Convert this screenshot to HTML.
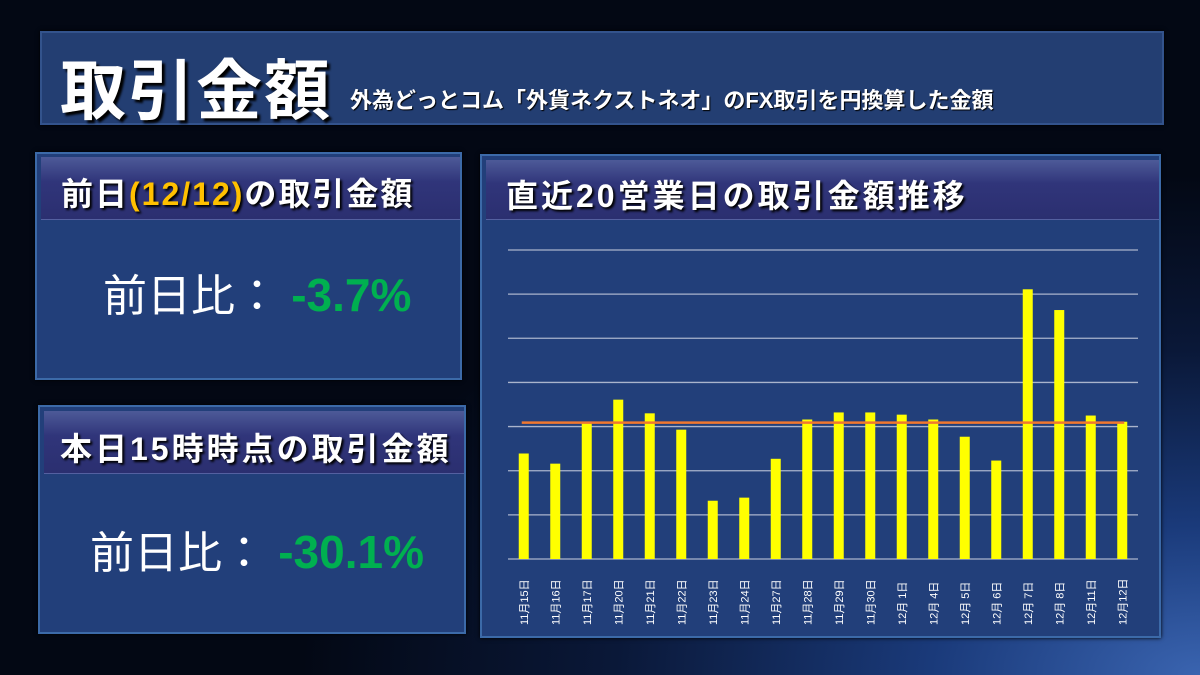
<!DOCTYPE html>
<html><head><meta charset="utf-8"><style>
*{margin:0;padding:0;box-sizing:border-box}
body{width:1200px;height:675px;overflow:hidden;font-family:"Liberation Sans","Noto Sans CJK JP",sans-serif;
background:radial-gradient(ellipse 900px 500px at 1200px 675px,#3a64b0 0%,#1a3a7a 30%,#0a1838 65%,#030814 100%);position:relative}
.panel{position:absolute;background:#223f7a;border:2px solid #3c6aa8;box-shadow:0 0 4px #000}
.hdr{position:absolute;left:4px;right:0;top:5px;height:62px;background:linear-gradient(#4d5a98,#30357a 40%,#2b2f70);border-bottom:1px solid #5460a0;color:#fff;font-weight:bold;text-shadow:2px 2px 2px #000}
.big{position:absolute;color:#fff;font-size:44px;white-space:nowrap;line-height:50px}
.pct{color:#00b050;font-weight:bold;font-size:46px}
</style></head><body>
<div class="panel" style="left:40px;top:31px;width:1124px;height:94px;background:#233e72;border-color:#33538c">
 <div style="position:absolute;left:18px;top:5px;font-size:66px;font-weight:bold;color:#fff;text-shadow:3px 3px 2px #000;letter-spacing:2px">取引金額</div>
 <div style="position:absolute;left:308px;top:50px;font-size:22px;font-weight:bold;color:#fff;text-shadow:1px 1px 1px #000">外為どっとコム「外貨ネクストネオ」のFX取引を円換算した金額</div>
</div>
<div class="panel" style="left:35px;top:152px;width:427px;height:228px">
 <div class="hdr" style="top:3px;height:63px"><span style="position:absolute;left:20px;top:12px;font-size:32px;letter-spacing:2px">前日<span style="color:#ffc000">(12/12)</span>の取引金額</span></div>
 <div class="big" style="left:66px;top:116px">前日比： <span class="pct">-3.7%</span></div>
</div>
<div class="panel" style="left:38px;top:405px;width:428px;height:229px">
 <div class="hdr" style="top:4px;height:63px"><span style="position:absolute;left:16px;top:13px;font-size:32px;letter-spacing:3px">本日15時時点の取引金額</span></div>
 <div class="big" style="left:50px;top:120px">前日比： <span class="pct">-30.1%</span></div>
</div>
<div class="panel" style="left:480px;top:154px;width:681px;height:484px">
 <div class="hdr" style="top:4px;height:60px"><span style="position:absolute;left:20px;top:11px;font-size:32px;letter-spacing:3px">直近20営業日の取引金額推移</span></div>
</div>
<svg id="chart" width="1200" height="675" style="position:absolute;left:0;top:0"></svg>
<script>
const categories=["11月15日","11月16日","11月17日","11月20日","11月21日","11月22日","11月23日","11月24日","11月27日","11月28日","11月29日","11月30日","12月 1日","12月 4日","12月 5日","12月 6日","12月 7日","12月 8日","12月11日","12月12日"];
const values=[2.39,2.16,3.09,3.61,3.3,2.93,1.32,1.39,2.27,3.16,3.32,3.32,3.27,3.16,2.77,2.23,6.11,5.64,3.25,3.11];
const averageValue=[3.09];
const gridTicks=[0,1,2,3,4,5,6,7];
const NS="http://www.w3.org/2000/svg",svg=document.getElementById('chart');
const x0=508,x1=1138,yb=559,yt=250,vmax=7;
const y=v=>yb-(v/vmax)*(yb-yt);
const step=(x1-x0)/categories.length;
const xc=i=>x0+step*(i+0.5);
function mk(t,a){const e=document.createElementNS(NS,t);for(const k in a)e.setAttribute(k,a[k]);svg.appendChild(e);return e;}
gridTicks.forEach(t=>{const l=mk('line',{x1:x0,x2:x1,y1:y(t),y2:y(t),stroke:'#aab4cc','stroke-width':1.3});

});
values.forEach((v,i)=>{const r=mk('rect',{x:xc(i)-5,y:y(v),width:10,height:yb-y(v),fill:'#ffff00'});


const tx=mk('text',{x:0,y:0,transform:`translate(${xc(i)+4},${yb+66}) rotate(-90)`,fill:'#fff','font-size':'11','font-family':'Liberation Sans, Noto Sans CJK JP, sans-serif'});
tx.textContent=categories[i];

});
const av=mk('line',{x1:xc(0)-2,x2:xc(values.length-1)+2,y1:y(averageValue[0]),y2:y(averageValue[0]),stroke:'#f07830','stroke-width':2.5});


</script>
</body></html>
